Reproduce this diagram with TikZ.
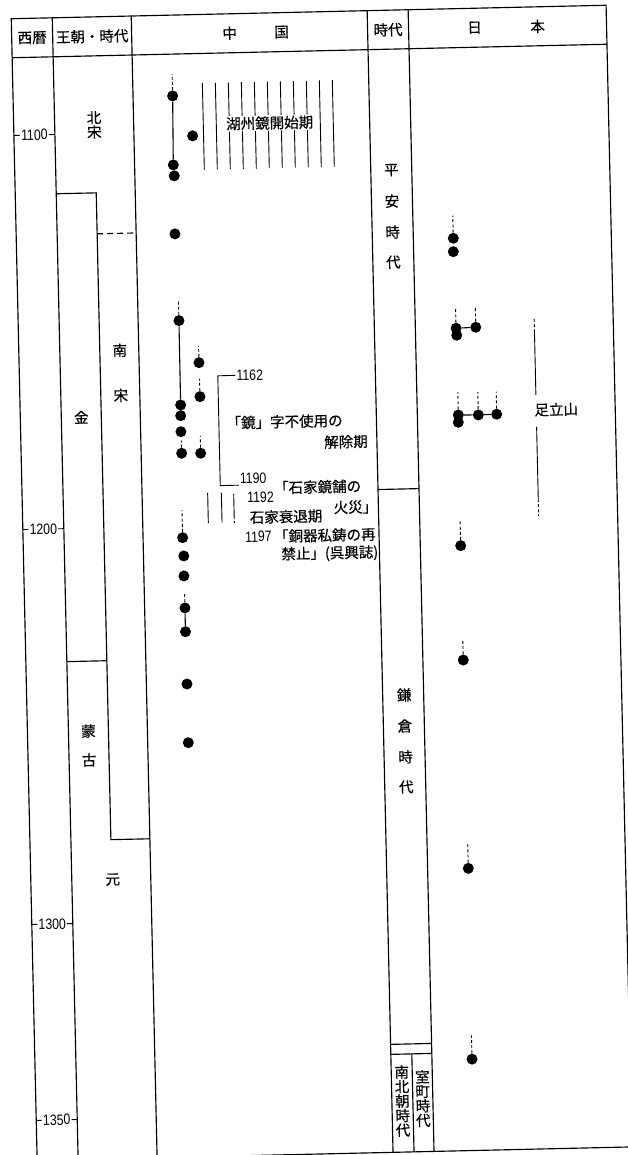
\documentclass[tikz,border=0pt]{standalone}
\usepackage{fontspec}
\usepackage{graphicx}
\newfontfamily\cjk[FakeBold=0.4]{Noto Sans CJK JP}
\newfontfamily\numf{Liberation Sans}
\newcommand{\yrtxt}[1]{\scalebox{0.82}[1]{#1}}
\begin{document}
\begin{tikzpicture}[x=1pt,y=-1pt,
  tl/.style={line width=1.15pt},
  conn/.style={line width=1.1pt},
  thinl/.style={line width=0.9pt},
  dot/.style={circle,fill=black,inner sep=0pt,minimum size=11pt},
  unc/.style={line width=0.9pt,dash pattern=on 3pt off 2.2pt},
  jp/.style={font=\cjk\fontsize{14.5}{14.5}\selectfont,inner sep=1pt},
  vstack/.style={jp,align=center},
  yr/.style={font=\numf\fontsize{15}{15}\selectfont,inner sep=1pt},
]
\useasboundingbox (0,0) rectangle (628,1155);
\fill[white] (0,0) rectangle (628,1155);
\clip (0,0) rectangle (628,1155);
\begin{scope}[rotate around={1.3:(314,578)}, transform shape]
% ---------- table frame ----------
\draw[tl] (24,12) rectangle (619,1154);
\draw[tl] (24,51) -- (619,51);
\foreach \cx in {65,144,380,421} \draw[tl] (\cx,12) -- (\cx,1154);
% dynasty column structure
\draw[tl] (65,188) -- (105,188) -- (105,835) -- (144,835);
\draw[tl,dash pattern=on 6pt off 4pt] (105,229) -- (144,229);
\draw[tl] (65,656) -- (105,656);
% period column structure
\draw[tl] (380,491) -- (421,491);
\draw[tl] (380,1046) -- (421,1046);
\draw[tl] (380,1056) -- (421,1056);
\draw[tl] (401,1056) -- (401,1154);
% ---------- header ----------
\node[jp] (hA) at (44.5,31.5) {西暦};
\node[jp] (hB) at (104.5,31.5) {王朝・時代};
\node[jp] (hC1) at (242,31.5) {中};
\node[jp] (hC2) at (294,31.5) {国};
\node[jp] (hD) at (400.5,31.5) {時代};
\node[jp] (hE1) at (487,31.5) {日};
\node[jp] (hE2) at (550,31.5) {本};
% ---------- years ----------
\foreach \py/\yt in {128.7/1100, 523/1200, 918/1300, 1114/1350} {
  \node[yr] (y\yt) at (44.5,\py) {\yrtxt{\yt}};
  \draw[thinl] (24,\py) -- (y\yt.west);
  \draw[thinl] (y\yt.east) -- (65,\py);
}
% ---------- dynasties ----------
\node[vstack] (bs) at (104.5,120) {北\\宋};
\node[jp] (kin) at (85,412) {金};
\node[jp] (ns1) at (125,346) {南};
\node[jp] (ns2) at (125,391) {宋};
\node[jp] (mg1) at (85,726) {蒙};
\node[jp] (mg2) at (85,755) {古};
\node[jp] (gen) at (106,875) {元};
% ---------- periods ----------
\node[jp] (p1) at (400.5,172) {平};
\node[jp] (p2) at (400.5,203) {安};
\node[jp] (p3) at (400.5,234) {時};
\node[jp] (p4) at (400.5,264) {代};
\node[jp] (k1) at (401.5,697) {鎌};
\node[jp] (k2) at (401.5,728) {倉};
\node[jp] (k3) at (401.5,759) {時};
\node[jp] (k4) at (401.5,789) {代};
\node[vstack] (nb) at (390.5,1103) {南\\北\\朝\\時\\代};
\node[vstack] (mm) at (411,1101) {室\\町\\時\\代};
% ---------- China ----------
\foreach \k in {0,...,10} \draw[thinl] ({213.6+13*\k},80.7) -- ({213.6+13*\k},167.3);
\node[jp,fill=white] (huzhou) at (280,122) {湖州鏡開始期};
\node[dot] (c1) at (183.6,92.8) {};
\node[dot] (c2) at (182.7,161.8) {};
\node[dot] (c3) at (183.4,172.8) {};
\node[dot] (c4) at (202.7,133.2) {};
\node[dot] (c5) at (182.8,230.8) {};
\node[dot] (c6) at (184.8,317.6) {};
\node[dot] (c7) at (203.9,360.1) {};
\node[dot] (c8) at (204.1,394.1) {};
\node[dot] (c9) at (184.6,402) {};
\node[dot] (c10) at (184.4,412.7) {};
\node[dot] (c11) at (184.3,428.7) {};
\node[dot] (c12) at (184.5,450.3) {};
\node[dot] (c13) at (203.5,450.7) {};
\node[dot] (c14) at (183.6,534.7) {};
\node[dot] (c15) at (184.3,553) {};
\node[dot] (c16) at (184,573) {};
\node[dot] (c17) at (184.3,605) {};
\node[dot] (c18) at (184.3,628.8) {};
\node[dot] (c19) at (184.6,681.1) {};
\node[dot] (c20) at (184.6,739.8) {};
\draw[conn] (c1) -- (c2);
\draw[conn] (c6) -- (c9);
\draw[conn] (c17) -- (c18);
\draw[unc] (c1.north) -- ++(0,-16);
\draw[unc] (c6.north) -- ++(0,-14);
\draw[unc] (c7.north) -- ++(0,-11);
\draw[unc] (c8.north) -- ++(0,-12);
\draw[unc] (c12.north) -- ++(0,-7);
\draw[unc] (c13.north) -- ++(0,-12);
\draw[unc] (c14.north) -- ++(0,-22);
\draw[unc] (c17.north) -- ++(0,-10);
% bracket 1162-1190
\node[yr,anchor=west] (n1162) at (240,373.6) {\yrtxt{1162}};
\node[yr,anchor=south west] (n1190) at (241,483.5) {\yrtxt{1190}};
\coordinate (b1) at (222.4,373.7);
\coordinate (b2) at (222.4,483.5);
\draw[thinl] (n1162.west) -- (b1) -- (b2) -- (n1190.south west);
\node[jp,anchor=west] (t1) at (229,421) {「鏡」字不使用の};
\node[jp,anchor=east] (t2) at (372,442.5) {解除期};
\node[jp,anchor=west] (t3) at (275,487) {「石家鏡舗の};
\node[yr,anchor=west] (n1192) at (248,496) {\yrtxt{1192}};
\node[jp,anchor=east] (t4) at (380,508) {火災」};
\node[jp,anchor=west] (t5) at (250,516) {石家衰退期};
\node[yr,anchor=west] (n1197) at (245,535.5) {\yrtxt{1197}};
\node[jp,anchor=west] (t6) at (n1197.east) {「銅器私鋳の再};
\node[jp,anchor=east] (t7) at (380,554) {禁止」(呉興誌)};
\draw[thinl] (209.6,490.5) -- (209.6,520.5);
\draw[thinl] (223.3,490.5) -- (223.3,520.5);
\draw[thinl] (235.6,492) -- (235.6,514);
\draw[unc] (235.6,514) -- (235.6,521);
% ---------- Japan ----------
\node[dot] (j1) at (461,241.5) {};
\node[dot] (j2) at (460.7,254.9) {};
\node[dot] (j3) at (461.7,331.5) {};
\node[dot] (j4) at (462.2,338.5) {};
\node[dot] (j5) at (481.4,331) {};
\node[dot] (j6) at (462,418.3) {};
\node[dot] (j7) at (461.8,425.6) {};
\node[dot] (j8) at (482,418.7) {};
\node[dot] (j9) at (500.4,418.4) {};
\node[dot] (j10) at (461.4,549) {};
\node[dot] (j11) at (461.4,663.4) {};
\node[dot] (j12) at (461.7,871.8) {};
\node[dot] (j13) at (461.1,1062.6) {};
\draw[conn] (j3) -- (j5);
\draw[conn] (j6) -- (j8) -- (j9);
\draw[unc] (j1.north) -- ++(0,-17);
\draw[unc] (j3.north) -- ++(0,-15);
\draw[unc] (j5.north) -- ++(0,-15);
\draw[unc] (j6.north) -- ++(0,-17);
\draw[unc] (j8.north) -- ++(0,-17);
\draw[unc] (j9.north) -- ++(0,-17);
\draw[unc] (j10.north) -- ++(0,-20);
\draw[unc] (j11.north) -- ++(0,-15);
\draw[unc] (j12.north) -- ++(0,-20);
\draw[unc] (j13.north) -- ++(0,-18);
% Ashitateyama range
\node[jp] (ashi) at (560,415) {足立山};
\coordinate (at) at (540,324);
\coordinate (a1) at (540,337);
\coordinate (a2) at (540,400);
\coordinate (a3) at (540,432);
\coordinate (a4) at (540,504);
\coordinate (ab) at (540,521);
\draw[unc] (at) -- (a1);
\draw[thinl] (a1) -- (a2);
\draw[thinl] (a3) -- (a4);
\draw[unc] (a4) -- (ab);
\end{scope}
\end{tikzpicture}
\end{document}
